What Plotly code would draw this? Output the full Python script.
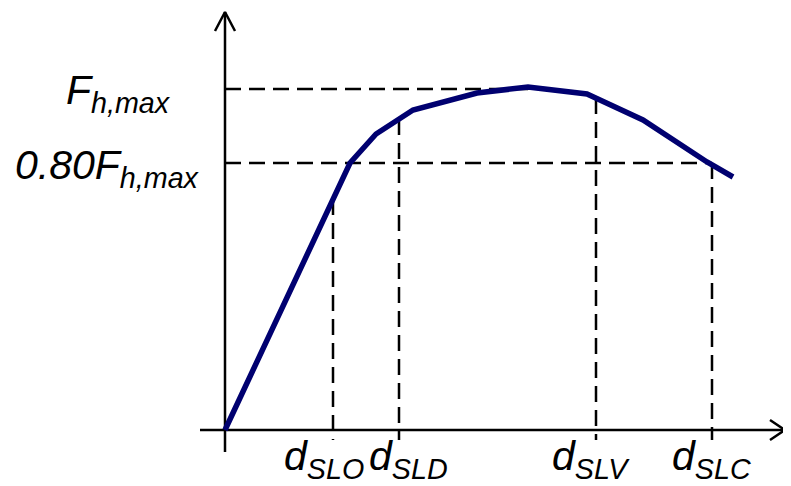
import plotly.graph_objects as go

# Capacity curve (displacement, force)
displacement = [0, 125, 151, 188, 252, 303, 362, 418, 482, 508]
force = [0, 267, 296, 320, 337, 343, 336, 310, 268, 253]

# Reference levels
f_max = 341
f_80 = 267
f_max_x = 303

# Limit-state displacements and where their guides meet the curve
ls_names = ["SLO", "SLD", "SLV", "SLC"]
ls_disp = [108, 174, 371, 487]
ls_force = [231, 311, 332, 267]
ls_label_shift = [-9, 9, -5, -1]

# Axis extents
x_axis = [-25, 560]
y_axis = [-22, 418]
guide_bottom = -10

FONT = "Liberation Sans, Arial, sans-serif"
DASH = "16px,8px"

fig = go.Figure()

# Dashed guides: horizontal
for lvl, xend in [(f_max, f_max_x), (f_80, ls_disp[3])]:
    fig.add_trace(go.Scatter(x=[0, xend], y=[lvl, lvl], mode="lines",
                             line=dict(color="black", width=2.5, dash=DASH),
                             hoverinfo="skip", showlegend=False))

# Dashed guides: vertical
for xd, yd in zip(ls_disp, ls_force):
    fig.add_trace(go.Scatter(x=[xd, xd], y=[yd, guide_bottom], mode="lines",
                             line=dict(color="black", width=2.5, dash=DASH),
                             hoverinfo="skip", showlegend=False))

# Axes with open arrowheads
ah = 15
aw = 10
axis_line = dict(color="black", width=2.5)
fig.add_trace(go.Scatter(x=x_axis, y=[0, 0], mode="lines", line=axis_line,
                         hoverinfo="skip", showlegend=False))
fig.add_trace(go.Scatter(x=[0, 0], y=y_axis, mode="lines", line=axis_line,
                         hoverinfo="skip", showlegend=False))
fig.add_trace(go.Scatter(x=[x_axis[1] - ah, x_axis[1], x_axis[1] - ah],
                         y=[aw, 0, -aw], mode="lines", line=axis_line,
                         hoverinfo="skip", showlegend=False))
fig.add_trace(go.Scatter(x=[-aw, 0, aw],
                         y=[y_axis[1] - ah - 4, y_axis[1], y_axis[1] - ah - 4],
                         mode="lines", line=axis_line,
                         hoverinfo="skip", showlegend=False))

# Capacity curve
fig.add_trace(go.Scatter(x=displacement, y=force, mode="lines",
                         line=dict(color="#000070", width=5.5),
                         hoverinfo="skip", showlegend=False))

# Labels
fs = 41
fig.add_annotation(x=0, y=f_max, xref="x", yref="y", xanchor="center", yanchor="middle",
                   xshift=-107, yshift=-4, showarrow=False,
                   text="<i>F<sub>h,max</sub></i>", font=dict(family=FONT, size=fs, color="black"))
fig.add_annotation(x=0, y=f_80, xref="x", yref="y", xanchor="center", yanchor="middle",
                   xshift=-118, yshift=-5, showarrow=False,
                   text="<i>0.80F<sub>h,max</sub></i>", font=dict(family=FONT, size=fs, color="black"))
for name, xd, sh in zip(ls_names, ls_disp, ls_label_shift):
    fig.add_annotation(x=xd, y=0, xref="x", yref="y", xanchor="center", yanchor="top",
                       xshift=sh, yshift=-1, showarrow=False,
                       text=f"<i>d<sub>{name}</sub></i>", font=dict(family=FONT, size=fs, color="black"))

# the page body adds an 8px offset, so the ranges are shifted to keep the origin in place
fig.update_layout(
    width=791, height=486,
    margin=dict(l=0, r=0, t=0, b=0),
    paper_bgcolor="white", plot_bgcolor="white",
    xaxis=dict(range=[-217, 574], visible=False, fixedrange=True),
    yaxis=dict(range=[-64, 422], visible=False, fixedrange=True),
    showlegend=False,
)

fig.write_html("out.html")
